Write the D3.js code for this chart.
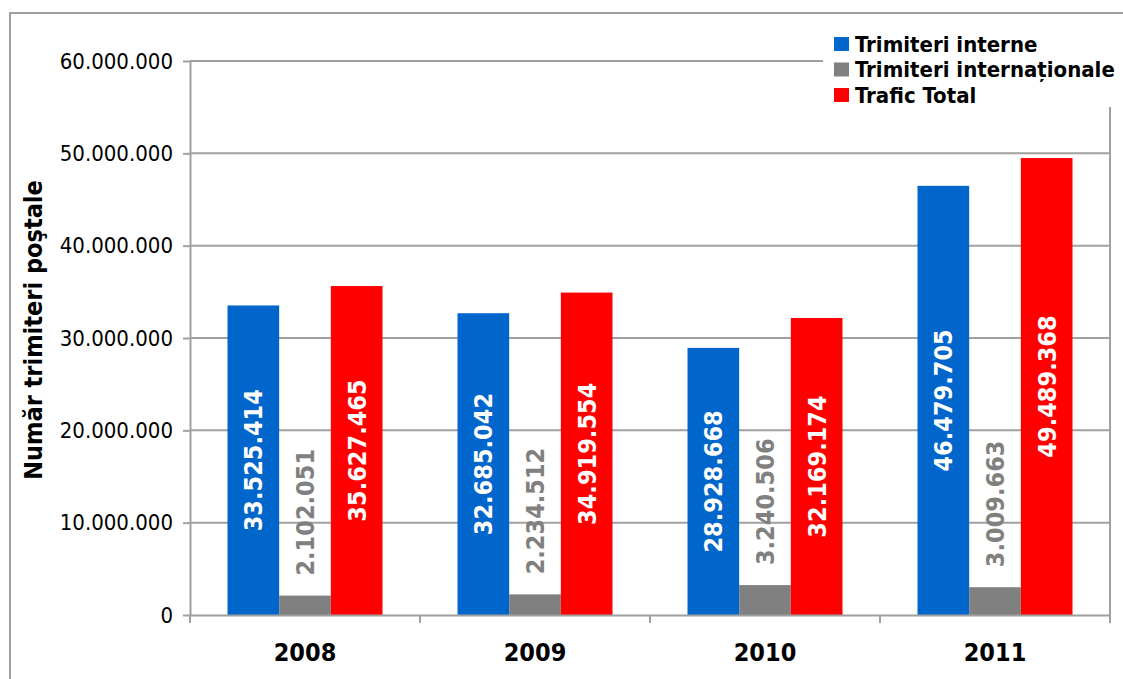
<!DOCTYPE html>
<html>
<head>
<meta charset="utf-8">
<title>Trimiteri postale</title>
<style>
  body { margin: 0; background: #fff; }
  svg text { font-family: "DejaVu Sans Condensed", "DejaVu Sans", sans-serif; font-stretch: condensed; }
  .grid line { stroke: #a0a0a0; stroke-width: 2; }
  .axis path, .axis line { stroke: #a0a0a0; stroke-width: 2; }
</style>
</head>
<body>
<script src="https://d3js.org/d3.v7.min.js"></script>
<script>
// data
var years = ["2008", "2009", "2010", "2011"];
var seriesNames = ["Trimiteri interne", "Trimiteri internaționale", "Trafic Total"];
var interne = [33525414, 32685042, 28928668, 46479705];
var internationale = [2102051, 2234512, 3240506, 3009663];
var total = [35627465, 34919554, 32169174, 49489368];
var yTicks = [0, 10000000, 20000000, 30000000, 40000000, 50000000, 60000000];
var colors = ["#0066cc", "#808080", "#ff0000"];

var W = 1123, H = 679;
var plot = {left: 190, right: 1110, top: 61, bottom: 615};

var ro = d3.formatLocale({decimal: ",", thousands: ".", grouping: [3], currency: ["", ""]});
var fmt = ro.format(",d");

var svg = d3.select("body").append("svg")
    .attr("width", W).attr("height", H);

// outer chart border
svg.append("rect")
    .attr("x", 10).attr("y", 13)
    .attr("width", W + 20).attr("height", H + 20)
    .attr("fill", "none").attr("stroke", "#a0a0a0").attr("stroke-width", 2);

var x = d3.scaleBand().domain(years).range([plot.left, plot.right]);
var groupW = 155;
var x1 = d3.scaleBand().domain(d3.range(3))
    .range([(x.bandwidth() - groupW) / 2, (x.bandwidth() + groupW) / 2]);
var y = d3.scaleLinear().domain([0, 60000000]).range([plot.bottom, plot.top]);

// gridlines
svg.append("g").attr("class", "grid")
    .selectAll("line").data(yTicks.slice(1)).enter().append("line")
    .attr("x1", plot.left).attr("x2", plot.right)
    .attr("y1", function(d){ return y(d); })
    .attr("y2", function(d){ return y(d); });

// right border of plot area
svg.append("line")
    .attr("x1", plot.right).attr("x2", plot.right)
    .attr("y1", plot.top).attr("y2", plot.bottom + 8)
    .attr("stroke", "#a0a0a0").attr("stroke-width", 2);

// bars
var rows = years.map(function(yr, i){
    return {year: yr, vals: [interne[i], internationale[i], total[i]]};
});

var groups = svg.selectAll(".grp").data(rows).enter().append("g")
    .attr("class", "grp")
    .attr("transform", function(d){ return "translate(" + x(d.year) + ",0)"; });

groups.selectAll("rect").data(function(d){ return d.vals; }).enter().append("rect")
    .attr("x", function(d, i){ return x1(i); })
    .attr("y", function(d){ return y(d); })
    .attr("width", x1.bandwidth())
    .attr("height", function(d){ return plot.bottom - y(d); })
    .attr("fill", function(d, i){ return colors[i]; });

// value labels, rotated
groups.selectAll(".lbl").data(function(d){ return d.vals; }).enter().append("text")
    .attr("class", "lbl")
    .attr("transform", function(d, i){
        var cx = x1(i) + x1.bandwidth() / 2;
        var cy = i === 1 ? y(d) - 20 : (y(d) + plot.bottom) / 2;
        return "translate(" + cx + "," + cy + ") rotate(-90)";
    })
    .attr("text-anchor", function(d, i){ return i === 1 ? "start" : "middle"; })
    .attr("dy", "0.36em")
    .attr("fill", function(d, i){ return i === 1 ? "#808080" : "#fff"; })
    .style("font-weight", "bold")
    .style("font-size", "25px")
    .text(function(d){ return fmt(d); });

// y axis
var yAxis = svg.append("g").attr("class", "axis")
    .attr("transform", "translate(" + plot.left + ",0)")
    .call(d3.axisLeft(y).tickValues(yTicks).tickSize(7).tickPadding(10).tickFormat(fmt).tickSizeOuter(0));
yAxis.selectAll("text").style("font-size", "22px").attr("fill", "#000");

// x axis
var xAxis = svg.append("g").attr("class", "axis")
    .attr("transform", "translate(0," + plot.bottom + ")")
    .call(d3.axisBottom(x).tickSize(0).tickPadding(28).tickSizeOuter(0));
xAxis.selectAll("text").style("font-size", "25px").style("font-weight", "bold").attr("fill", "#000");
xAxis.selectAll(".bound").data(years.concat(["end"])).enter().append("line")
    .attr("class", "bound")
    .attr("x1", function(d){ return d === "end" ? plot.right : x(d); })
    .attr("x2", function(d){ return d === "end" ? plot.right : x(d); })
    .attr("y1", 0).attr("y2", 8);

// y axis title
svg.append("text")
    .attr("transform", "translate(42,330) rotate(-90)")
    .attr("text-anchor", "middle")
    .style("font-size", "25px").style("font-weight", "bold")
    .text("Număr trimiteri poştale");

// legend
var legend = svg.append("g");
legend.append("rect")
    .attr("x", 823).attr("y", 25).attr("width", 300).attr("height", 82)
    .attr("fill", "#fff");
var items = legend.selectAll(".item").data(seriesNames).enter().append("g")
    .attr("transform", function(d, i){ return "translate(834," + (44 + i * 25.5) + ")"; });
items.append("rect")
    .attr("x", 0).attr("y", -7).attr("width", 15).attr("height", 14)
    .attr("fill", function(d, i){ return colors[i]; });
items.append("text")
    .attr("x", 21).attr("dy", "0.36em")
    .style("font-size", "22px").style("font-weight", "bold")
    .text(function(d){ return d; });
</script>
</body>
</html>
